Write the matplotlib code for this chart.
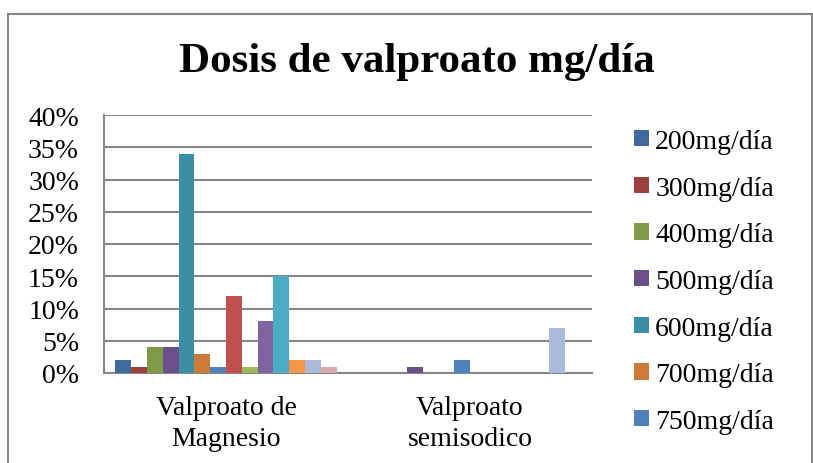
import matplotlib.pyplot as plt
from matplotlib.patches import Rectangle, Patch
import numpy as np

# Datos (porcentaje por grupo)
categorias = ['Valproato de\nMagnesio', 'Valproato\nsemisodico']
dosis = ['200mg/día', '300mg/día', '400mg/día', '500mg/día', '600mg/día',
         '700mg/día', '750mg/día', '800mg/día', '900mg/día', '1000mg/día',
         '1200mg/día', '1500mg/día', '2000mg/día', '2500mg/día']
magnesio = [2, 1, 4, 4, 34, 3, 1, 12, 1, 8, 15, 2, 2, 1]
semisodico = [0, 0, 0, 1, 0, 0, 2, 0, 0, 0, 0, 0, 7, 0]

# Paleta estilo Excel 2007 (tonos oscuros, base, claros)
colores = ['#3F6A9E', '#9E403E', '#7F9A48', '#6A4F88', '#3C8DA3', '#CC7A36',
           '#4F81BD', '#C0504D', '#9BBB59', '#8064A2', '#4BACC6', '#F79646',
           '#AABAD8', '#D9AAA9']

serif = 'Liberation Serif'
fs = 20
W, H = 813, 464
fig = plt.figure(figsize=(W / 100, H / 100), dpi=100)

# marco exterior del gráfico
fig.patches.append(Rectangle((8 / W, -0.1), (W - 9) / W, (H - 15) / H + 0.1,
                             transform=fig.transFigure, fill=False,
                             edgecolor='#868686', linewidth=1.5))

ax = fig.add_axes([104 / W, (H - 374) / H, (592 - 104) / W, (374 - 116) / H])

n = len(dosis)
ancho = 0.0648
x = np.arange(len(categorias))
for i in range(n):
    offs = (i - (n - 1) / 2) * ancho
    vals = [magnesio[i] / 100, semisodico[i] / 100]
    ax.bar(x + offs, vals, ancho, color=colores[i], label=dosis[i], zorder=3)

ax.set_xlim(-0.5, 1.5)
ax.set_ylim(0, 0.40)
ax.set_yticks(np.arange(0, 0.41, 0.05))
ax.set_yticklabels([f'{int(round(v * 100))}%' for v in np.arange(0, 0.41, 0.05)],
                   fontfamily=serif, fontsize=fs)
ax.set_xticks(x)
ax.set_xticklabels(categorias, fontfamily=serif, fontsize=fs, linespacing=1.29)
ax.tick_params(axis='y', length=0, pad=18)
ax.tick_params(axis='x', length=0, pad=16)
ax.yaxis.grid(True, color='#868686', linewidth=1.5, zorder=0)
for s in ['top', 'right']:
    ax.spines[s].set_visible(False)
for s in ['left', 'bottom']:
    ax.spines[s].set_color('#868686')
    ax.spines[s].set_linewidth(1.5)

fig.text(417 / W, 1 - 62 / H, 'Dosis de valproato mg/día', ha='center', va='center',
         fontfamily=serif, fontweight='bold', fontsize=31)

# la leyenda solo muestra las primeras 7 dosis (está recortada en el original)
handles = [Patch(facecolor=colores[i], edgecolor='none') for i in range(7)]
fig.legend(handles, dosis[:7], loc='upper left', bbox_to_anchor=(634 / W, 1 - 130 / H),
           frameon=False, prop={'family': serif, 'size': fs},
           handlelength=0.54, handleheight=0.54, handletextpad=0.22,
           labelspacing=0.78, borderpad=0, borderaxespad=0)

fig.savefig('out.png', dpi=100)
